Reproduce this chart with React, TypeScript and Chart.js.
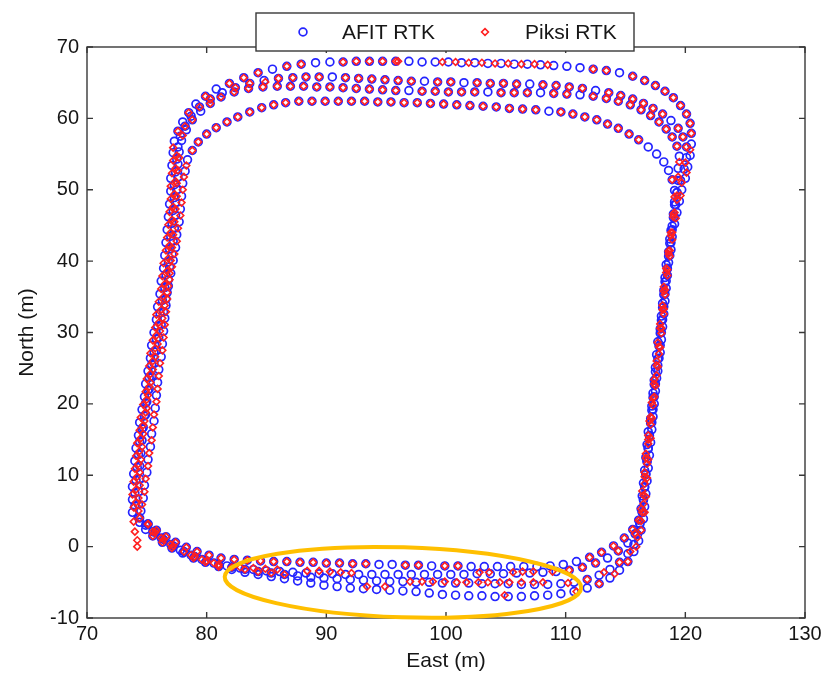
import { useEffect, useRef } from 'react';
import { Chart, registerables } from 'chart.js';

Chart.register(...registerables);

type Pt = [number, number];

const xTicks = [70, 80, 90, 100, 110, 120, 130];
const yTicks = [-10, 0, 10, 20, 30, 40, 50, 60, 70];
const seriesNames = ['AFIT RTK', 'Piksi RTK'];
const xTitle = 'East (m)';
const yTitle = 'North (m)';

// highlighted region (data units): centre, semi-axes, tilt (rad)
const highlightEllipse = { cx: 96.4, cy: -5.0, rx: 14.9, ry: 4.9, tilt: 0.031 };

// ---------------- AFIT RTK (blue circles) ----------------
const afitLap1: Pt[] = [
  [73.8,4.8],[73.8,6.6],[73.8,8.4],[73.9,10.2],[74.0,12.0],[74.1,13.8],[74.3,15.6],[74.4,17.4],[74.6,19.2],[74.8,21.0],
  [74.9,22.8],[75.1,24.6],[75.3,26.4],[75.4,28.2],[75.6,30.0],[75.8,31.8],[75.9,33.6],[76.1,35.4],[76.2,37.2],[76.4,39.0],
  [76.5,40.8],[76.6,42.6],[76.7,44.4],[76.8,46.2],[76.9,48.0],[77.0,49.8],[77.0,51.6],[77.1,53.4],[77.2,55.2],[77.3,56.8],
  [77.6,58.2],[78.0,59.5],[78.5,60.8],[79.1,62.0],[79.9,63.1],[80.8,64.1],[81.9,64.9],[83.1,65.7],[84.3,66.4],[85.5,66.9],
  [86.7,67.3],[87.9,67.6],[89.1,67.8],[90.3,67.9],[91.4,67.9],[92.5,68.0],[93.6,68.0],[94.7,68.0],[95.8,68.0],[96.9,68.0],
  [98.0,67.9],[99.1,67.9],[100.2,67.9],[101.3,67.8],[102.4,67.8],[103.5,67.7],[104.6,67.7],[105.7,67.6],[106.8,67.6],[107.9,67.5],
  [109.0,67.4],[110.1,67.3],[111.2,67.1],[112.3,66.9],[113.4,66.7],[114.5,66.4],[115.6,65.9],[116.6,65.3],[117.5,64.6],[118.3,63.8],
  [119.0,62.9],[119.6,61.8],[120.1,60.6],[120.4,59.3],[120.5,57.9],[120.5,56.4],[120.4,54.8],[120.2,53.2],[120.0,51.6],[119.7,50.0],
  [119.5,48.4],[119.3,46.8],[119.1,45.2],[118.9,43.4],[118.8,41.6],[118.6,39.8],[118.5,38.0],[118.4,36.2],[118.3,34.4],[118.2,32.6],
  [118.1,30.8],[118.0,29.0],[117.9,27.2],[117.7,25.4],[117.6,23.6],[117.5,21.8],[117.4,20.0],[117.3,18.2],[117.2,16.4],[117.1,14.6],
  [117.0,12.8],[116.9,11.0],[116.8,9.2],[116.7,7.4],[116.6,5.6],[116.5,3.9],[116.3,2.3],[116.1,0.8],[115.7,-0.7],[115.2,-2.1],
  [114.5,-3.3],[113.7,-4.4],[112.8,-5.2],[111.8,-5.8],[110.7,-6.3],[109.6,-6.6],[108.5,-6.8],[107.4,-6.9],[106.3,-7.0],[105.2,-7.0],
  [104.1,-7.0],[103.0,-6.9],[101.9,-6.9],[100.8,-6.8],[99.7,-6.7],[98.6,-6.5],[97.5,-6.3],[96.4,-6.2],[95.3,-6.1],[94.2,-6.0],
  [93.1,-5.9],[92.0,-5.8],[90.9,-5.6],[89.8,-5.4],[88.7,-5.1],[87.6,-4.8],[86.5,-4.5],[85.4,-4.2],[84.3,-3.9],[83.2,-3.6],
  [82.1,-3.2],[81.0,-2.8],[79.9,-2.2],[78.9,-1.6],[78.0,-0.9],[77.1,-0.2],[76.3,0.6],[75.5,1.5],[74.9,2.4],[74.4,3.4]
];
const afitLap2: Pt[] = [
  [74.0,5.7],[74.0,7.5],[74.1,9.3],[74.2,11.1],[74.3,12.9],[74.4,14.7],[74.6,16.5],[74.8,18.3],[74.9,20.1],[75.1,21.9],
  [75.2,23.7],[75.4,25.5],[75.6,27.3],[75.8,29.1],[75.9,30.9],[76.1,32.7],[76.3,34.5],[76.5,36.3],[76.6,38.1],[76.8,39.9],
  [76.9,41.7],[77.0,43.5],[77.1,45.3],[77.2,47.1],[77.3,48.9],[77.3,50.7],[77.4,52.5],[77.5,54.3],[77.6,56.0],[77.8,57.5],
  [78.2,58.9],[78.7,60.3],[79.4,61.6],[80.3,62.7],[81.3,63.6],[82.4,64.3],[83.6,64.9],[84.8,65.3],[86.0,65.6],[87.2,65.7],
  [88.3,65.8],[89.4,65.8],[90.5,65.8],[91.6,65.7],[92.7,65.6],[93.8,65.5],[94.9,65.4],[96.0,65.3],[97.1,65.2],[98.2,65.2],
  [99.3,65.1],[100.4,65.1],[101.5,65.0],[102.6,65.0],[103.7,64.9],[104.8,64.9],[105.9,64.8],[107.0,64.8],[108.1,64.7],[109.2,64.6],
  [110.3,64.4],[111.4,64.2],[112.5,63.9],[113.6,63.6],[114.6,63.2],[115.6,62.7],[116.5,62.1],[117.3,61.4],[118.1,60.6],[118.8,59.7],
  [119.4,58.6],[119.8,57.4],[120.1,56.0],[120.1,54.5],[119.9,52.9],[119.6,51.3],[119.3,49.6],[119.1,47.9],[119.0,46.1],[118.8,44.3],
  [118.7,42.5],[118.6,40.7],[118.5,38.9],[118.3,37.1],[118.2,35.3],[118.1,33.5],[118.0,31.7],[117.9,29.9],[117.8,28.1],[117.7,26.3],
  [117.5,24.5],[117.4,22.7],[117.3,20.9],[117.2,19.1],[117.1,17.3],[117.0,15.5],[116.9,13.7],[116.8,11.9],[116.7,10.1],[116.6,8.3],
  [116.5,6.5],[116.4,4.8],[116.2,3.2],[115.8,1.8],[115.2,0.5],[114.4,-0.6],[113.5,-1.6],[112.5,-2.3],[111.4,-2.9],[110.3,-3.3],
  [109.2,-3.5],[108.1,-3.6],[107.0,-3.7],[105.9,-3.7],[104.8,-3.8],[103.7,-3.8],[102.6,-3.8],[101.5,-3.9],[100.4,-3.9],[99.3,-3.9],
  [98.2,-3.9],[97.1,-3.9],[96.0,-3.9],[94.9,-3.9],[93.8,-3.9],[92.7,-3.9],[91.6,-3.9],[90.5,-3.8],[89.4,-3.8],[88.3,-3.7],
  [87.2,-3.6],[86.1,-3.5],[85.0,-3.4],[83.9,-3.2],[82.8,-3.0],[81.7,-2.7],[80.6,-2.3],[79.6,-1.8],[78.7,-1.2],[77.8,-0.5],
  [77.0,0.3],[76.2,1.2],[75.5,2.1],[74.9,3.0],[74.4,4.0]
];
const afitLap3: Pt[] = [
  [74.5,5.0],[74.7,6.8],[74.8,8.6],[75.0,10.4],[75.1,12.2],[75.3,14.0],[75.4,15.8],[75.6,17.6],[75.7,19.4],[75.8,21.2],
  [75.9,23.0],[76.0,24.8],[76.2,26.6],[76.3,28.4],[76.4,30.2],[76.5,32.0],[76.6,33.8],[76.7,35.6],[76.8,37.4],[76.9,39.2],
  [77.1,41.0],[77.2,42.8],[77.3,44.6],[77.4,46.4],[77.4,48.2],[77.5,50.0],[77.6,51.8],[77.6,53.6],[77.7,55.3],[77.9,56.9],
  [78.3,58.4],[78.8,59.8],[79.5,61.0],[80.3,62.1],[81.2,63.0],[82.3,63.7],[83.5,64.2],[84.7,64.4],[85.9,64.5],[87.0,64.5],
  [88.1,64.5],[89.2,64.4],[90.3,64.4],[91.4,64.3],[92.5,64.2],[93.6,64.1],[94.7,64.0],[95.8,63.9],[96.9,63.9],[98.0,63.8],
  [99.1,63.8],[100.2,63.7],[101.3,63.7],[102.4,63.7],[103.5,63.7],[104.6,63.6],[105.7,63.6],[106.8,63.6],[107.9,63.6],[109.0,63.5],
  [110.1,63.4],[111.2,63.3],[112.3,63.1],[113.4,62.8],[114.4,62.4],[115.4,61.9],[116.3,61.2],[117.1,60.4],[117.8,59.5],[118.4,58.5],
  [118.9,57.4],[119.3,56.1],[119.5,54.7],[119.4,53.0],[119.4,51.3],[119.3,49.6],[119.2,47.9],[119.1,46.2],[118.9,44.4],[118.8,42.6],
  [118.7,40.8],[118.5,39.0],[118.4,37.2],[118.3,35.4],[118.2,33.6],[118.1,31.8],[118.0,30.0],[117.9,28.2],[117.8,26.4],[117.7,24.6],
  [117.5,22.8],[117.4,21.0],[117.3,19.2],[117.2,17.4],[117.0,15.6],[116.9,13.8],[116.8,12.0],[116.7,10.2],[116.6,8.4],[116.5,6.6],
  [116.4,4.8],[116.2,3.2],[116.0,1.7],[115.7,0.3],[115.2,-1.0],[114.5,-2.2],[113.7,-3.2],[112.8,-4.0],[111.8,-4.6],[110.7,-5.0],
  [109.6,-5.2],[108.5,-5.3],[107.4,-5.3],[106.3,-5.3],[105.2,-5.2],[104.1,-5.2],[103.0,-5.2],[101.9,-5.1],[100.8,-5.1],[99.7,-5.1],
  [98.6,-5.0],[97.5,-5.0],[96.4,-4.9],[95.3,-4.9],[94.2,-4.8],[93.1,-4.7],[92.0,-4.6],[90.9,-4.5],[89.8,-4.4],[88.7,-4.3],
  [87.6,-4.1],[86.5,-3.9],[85.4,-3.7],[84.3,-3.5],[83.2,-3.2],[82.1,-2.9],[81.0,-2.5],[80.0,-2.0],[79.0,-1.4],[78.1,-0.7],
  [77.2,0.1],[76.4,1.0],[75.7,2.0],[75.1,3.1]
];
const afitLap4: Pt[] = [
  [74.3,4.1],[74.3,5.9],[74.3,7.7],[74.4,9.5],[74.4,11.3],[74.5,13.1],[74.6,14.9],[74.7,16.7],[74.9,18.5],[75.0,20.3],
  [75.2,22.1],[75.4,23.9],[75.6,25.7],[75.8,27.5],[76.0,29.3],[76.2,31.1],[76.4,32.9],[76.6,34.7],[76.8,36.5],[77.0,38.3],
  [77.2,40.1],[77.4,41.9],[77.5,43.7],[77.7,45.5],[77.8,47.3],[77.9,49.1],[78.0,50.9],[78.2,52.6],[78.4,54.2],[78.8,55.5],
  [79.3,56.7],[80.0,57.8],[80.8,58.7],[81.7,59.5],[82.6,60.2],[83.6,60.9],[84.6,61.5],[85.6,61.9],[86.6,62.2],[87.7,62.4],
  [88.8,62.4],[89.9,62.4],[91.0,62.4],[92.1,62.4],[93.2,62.4],[94.3,62.3],[95.4,62.3],[96.5,62.2],[97.6,62.2],[98.7,62.1],
  [99.8,62.0],[100.9,61.9],[102.0,61.8],[103.1,61.7],[104.2,61.6],[105.3,61.4],[106.4,61.3],[107.5,61.2],[108.6,61.0],[109.6,60.9],
  [110.6,60.6],[111.6,60.2],[112.6,59.8],[113.5,59.2],[114.4,58.6],[115.3,57.8],[116.1,57.0],[116.9,56.0],[117.6,55.0],[118.2,53.9],
  [118.6,52.7],[118.9,51.4],[119.1,49.9],[119.1,48.3],[119.0,46.6],[118.9,44.9],[118.7,43.1],[118.6,41.3],[118.4,39.5],[118.3,37.7],
  [118.2,35.9],[118.1,34.1],[118.0,32.3],[117.9,30.5],[117.7,28.7],[117.6,26.9],[117.5,25.1],[117.4,23.3],[117.3,21.5],[117.2,19.7],
  [117.1,17.9],[116.9,16.1],[116.8,14.3],[116.7,12.5],[116.6,10.7],[116.5,8.9],[116.4,7.1],[116.3,5.3],[116.1,3.7],[115.6,2.4],
  [114.9,1.2],[114.0,0.1],[113.0,-0.8],[112.0,-1.5],[110.9,-2.1],[109.8,-2.5],[108.7,-2.7],[107.6,-2.8],[106.5,-2.8],[105.4,-2.8],
  [104.3,-2.8],[103.2,-2.8],[102.1,-2.8],[101.0,-2.7],[99.9,-2.7],[98.8,-2.7],[97.7,-2.6],[96.6,-2.6],[95.5,-2.5],[94.4,-2.5],
  [93.3,-2.4],[92.2,-2.4],[91.1,-2.3],[90.0,-2.3],[88.9,-2.2],[87.8,-2.2],[86.7,-2.1],[85.6,-2.1],[84.5,-2.0],[83.4,-1.9],
  [82.3,-1.8],[81.2,-1.6],[80.2,-1.2],[79.2,-0.7],[78.3,-0.1],[77.4,0.6],[76.6,1.4],[75.8,2.3],[75.1,3.2]
];

// ---------------- Piksi RTK (red diamonds) ----------------
const piksiLap1: Pt[] = [
  [74.2,0.0],[74.2,0.9],[74.0,2.1],[73.9,3.5],[73.9,5.5],[73.8,7.3],[73.9,9.1],[74.0,10.9],[74.1,12.7],[74.2,14.5],
  [74.4,16.3],[74.5,18.1],[74.7,19.9],[74.9,21.7],[75.0,23.5],[75.2,25.3],[75.3,27.1],[75.5,28.9],[75.7,30.7],[75.8,32.5],
  [76.0,34.3],[76.2,36.1],[76.3,37.9],[76.4,39.7],[76.6,41.5],[76.7,43.3],[76.8,45.1],[76.9,46.9],[77.0,48.7],[77.0,50.5],
  [77.1,52.3],[77.2,54.1],[77.2,55.9],[77.6,58.2],[78.5,60.8],[79.9,63.1],[81.9,64.9],[83.1,65.7],[84.3,66.4],[86.7,67.3],
  [87.9,67.6],[91.4,67.9],[92.5,68.0],[93.6,68.0],[94.7,68.0],[95.8,68.0],[96.0,68.0],[99.7,67.9],[100.8,67.9],[101.9,67.8],
  [103.0,67.8],[104.1,67.7],[105.2,67.7],[106.3,67.6],[107.4,67.6],[108.5,67.5],[112.3,66.9],[113.4,66.7],[115.6,65.9],[116.6,65.3],
  [117.5,64.6],[118.3,63.8],[119.0,62.9],[119.6,61.8],[120.1,60.6],[120.4,59.3],[120.5,57.9],[120.4,55.6],[120.1,52.4],[119.6,49.2],
  [119.2,46.0],[118.9,43.0],[118.7,40.7],[118.5,38.0],[118.3,35.3],[118.2,32.6],[118.0,29.9],[117.8,27.0],[117.6,24.0],[117.4,21.0],
  [117.2,18.0],[117.1,15.2],[116.9,12.2],[116.8,9.6],[116.7,7.0],[116.6,4.8],[116.3,2.3],[115.9,0.0],[115.2,-2.1],[114.1,-3.8],
  [112.8,-5.2],[110.9,-6.3],[104.9,-6.8],[81.0,-2.8],[79.9,-2.2],[78.9,-1.6],[77.1,-0.2],[76.3,0.6],[75.5,1.5]
];
const piksiLap2: Pt[] = [
  [74.1,6.2],[74.1,8.0],[74.2,9.8],[74.3,11.6],[74.4,13.4],[74.5,15.2],[74.7,17.0],[74.9,18.8],[75.0,20.6],[75.2,22.4],
  [75.3,24.2],[75.5,26.0],[75.7,27.8],[75.8,29.6],[76.0,31.4],[76.2,33.2],[76.4,35.0],[76.5,36.8],[76.7,38.6],[76.8,40.4],
  [76.9,42.2],[77.0,44.0],[77.1,45.8],[77.2,47.6],[77.3,49.4],[77.4,51.2],[77.4,53.0],[77.5,54.8],[78.2,58.9],[79.4,61.6],
  [80.3,62.7],[82.4,64.3],[83.6,64.9],[84.9,65.1],[86.0,65.6],[87.2,65.7],[88.3,65.8],[89.4,65.8],[91.6,65.7],[92.7,65.6],
  [93.8,65.5],[94.9,65.4],[96.0,65.3],[97.1,65.2],[99.3,65.1],[100.4,65.1],[102.6,65.0],[103.7,64.9],[104.8,64.9],[105.9,64.8],
  [108.1,64.7],[109.2,64.6],[110.3,64.4],[111.4,64.2],[113.6,63.6],[114.6,63.2],[115.6,62.7],[116.5,62.1],[117.3,61.4],[118.1,60.6],
  [119.4,58.6],[119.8,57.4],[120.1,56.0],[120.0,53.8],[119.7,51.0],[119.3,48.6],[119.0,46.2],[118.8,43.6],[118.6,41.0],[118.4,38.4],
  [118.2,35.8],[118.1,33.2],[117.9,30.6],[117.8,28.0],[117.6,25.4],[117.4,22.8],[117.2,20.2],[117.0,17.6],[116.9,15.0],[116.7,12.4],
  [116.6,9.8],[116.5,7.2],[116.4,4.8],[115.8,1.8],[114.4,-0.6],[112.5,-2.3],[111.4,-2.9],[110.3,-3.3],[108.9,-3.5],[107.3,-3.5],
  [106.4,-3.5],[105.6,-3.6],[103.6,-3.6],[102.8,-3.6],[85.9,-3.2],[84.9,-3.1],[83.9,-3.0],[82.8,-2.9],[80.6,-2.3],[79.6,-1.8],
  [78.7,-1.2],[77.0,0.3],[76.2,1.2],[75.5,2.1],[74.4,4.0]
];
const piksiLap3: Pt[] = [
  [74.6,5.9],[74.8,7.7],[74.9,9.5],[75.1,11.3],[75.2,13.1],[75.4,14.9],[75.5,16.7],[75.6,18.5],[75.8,20.3],[75.9,22.1],
  [76.0,23.9],[76.1,25.7],[76.3,27.5],[76.4,29.3],[76.5,31.1],[76.6,32.9],[76.7,34.7],[76.8,36.5],[76.9,38.3],[77.0,40.1],
  [77.1,41.9],[77.2,43.7],[77.3,45.5],[77.4,47.3],[77.5,49.1],[77.5,50.9],[77.6,52.7],[77.7,54.5],[78.0,57.6],[78.8,59.8],
  [80.3,62.1],[81.2,63.0],[82.3,63.7],[83.5,64.2],[84.7,64.4],[85.9,64.5],[87.0,64.5],[88.1,64.5],[89.2,64.4],[90.3,64.4],
  [91.4,64.3],[92.5,64.2],[93.6,64.1],[94.7,64.0],[95.8,63.9],[98.0,63.8],[99.1,63.8],[100.2,63.7],[101.3,63.7],[102.4,63.7],
  [104.6,63.6],[105.7,63.6],[106.8,63.6],[109.0,63.5],[110.1,63.4],[112.3,63.1],[113.4,62.8],[114.4,62.4],[115.4,61.9],[116.3,61.2],
  [117.1,60.4],[117.8,59.5],[118.4,58.5],[118.9,57.4],[119.3,56.1],[119.5,53.9],[119.4,51.8],[119.3,49.2],[119.1,46.8],[118.9,44.0],
  [118.7,41.5],[118.5,38.8],[118.3,36.0],[118.2,33.3],[118.0,30.6],[117.9,27.9],[117.7,25.2],[117.5,22.5],[117.3,19.8],[117.1,17.1],
  [116.9,14.4],[116.8,11.6],[116.6,8.8],[116.5,6.0],[116.3,3.6],[116.0,1.3],[115.4,-0.7],[114.5,-2.2],[113.2,-3.6],[111.8,-4.6],
  [110.2,-5.1],[108.1,-5.0],[107.3,-5.0],[106.3,-5.0],[105.3,-5.0],[104.5,-5.0],[103.5,-5.0],[102.7,-5.0],[101.7,-5.0],[100.9,-5.0],
  [99.9,-4.9],[98.9,-4.9],[98.0,-4.9],[97.0,-4.9],[94.9,-5.6],[93.4,-5.6],[92.1,-3.7],[91.2,-3.6],[90.3,-3.5],[89.4,-3.4],
  [88.4,-3.4],[86.5,-3.9],[85.4,-3.7],[84.3,-3.5],[83.2,-3.2],[82.1,-2.9],[81.0,-2.5],[80.0,-2.0],[79.0,-1.4],[78.1,-0.7],
  [77.2,0.1],[76.4,1.0],[75.7,2.0],[75.1,3.1]
];
const piksiLap4: Pt[] = [
  [74.3,5.0],[74.3,6.8],[74.4,8.6],[74.4,10.4],[74.5,12.2],[74.6,14.0],[74.7,15.8],[74.8,17.6],[75.0,19.4],[75.1,21.2],
  [75.3,23.0],[75.5,24.8],[75.7,26.6],[75.9,28.4],[76.1,30.2],[76.3,32.0],[76.5,33.8],[76.7,35.6],[76.9,37.4],[77.1,39.2],
  [77.3,41.0],[77.5,42.8],[77.6,44.6],[77.8,46.4],[77.9,48.2],[78.0,50.0],[78.1,51.8],[78.3,53.4],[78.8,55.5],[79.3,56.7],
  [80.0,57.8],[80.8,58.7],[81.7,59.5],[82.6,60.2],[83.6,60.9],[84.6,61.5],[85.6,61.9],[86.6,62.2],[87.7,62.4],[88.8,62.4],
  [89.9,62.4],[91.0,62.4],[92.1,62.4],[93.2,62.4],[94.3,62.3],[95.4,62.3],[96.5,62.2],[97.6,62.2],[98.7,62.1],[99.8,62.0],
  [100.9,61.9],[102.0,61.8],[103.1,61.7],[104.2,61.6],[105.3,61.4],[106.4,61.3],[107.5,61.2],[109.6,60.9],[110.6,60.6],[111.6,60.2],
  [112.6,59.8],[113.5,59.2],[114.4,58.6],[115.3,57.8],[116.1,57.0],[118.9,51.4],[119.1,49.0],[119.0,46.6],[118.8,44.0],[118.6,41.4],
  [118.4,39.0],[118.2,36.4],[118.1,33.8],[117.9,31.2],[117.7,28.6],[117.6,26.0],[117.4,23.4],[117.3,20.8],[117.1,18.2],[116.9,15.6],
  [116.7,13.0],[116.6,10.4],[116.4,7.8],[116.3,5.3],[116.1,3.7],[115.6,2.4],[114.9,1.2],[114.0,0.1],[113.0,-0.8],[112.0,-1.5],
  [101.0,-2.7],[99.9,-2.7],[97.7,-2.6],[96.6,-2.6],[93.3,-2.4],[92.2,-2.4],[91.1,-2.3],[90.0,-2.3],[88.9,-2.2],[87.8,-2.2],
  [86.7,-2.1],[85.6,-2.1],[84.5,-2.0],[83.4,-1.9],[82.3,-1.8],[81.2,-1.6],[80.2,-1.2],[79.2,-0.7],[78.3,-0.1],[77.4,0.6],
  [76.6,1.4],[75.8,2.3],[75.1,3.2]
];

const afitPoints: Pt[] = [...afitLap1, ...afitLap2, ...afitLap3, ...afitLap4];
const piksiPoints: Pt[] = [...piksiLap1, ...piksiLap2, ...piksiLap3, ...piksiLap4];

const FONT = "'Liberation Sans', Arial, Helvetica, sans-serif";
const TEXT = '#161616';
const AXIS = '#383838';
const BLUE = '#2424ff';
const RED = '#ff2020';

const overlayPlugin = {
  id: 'overlay',
  afterDatasetsDraw(chart: any) {
    const { ctx, chartArea, scales } = chart;
    const { left, right, top, bottom } = chartArea;
    const xs = scales.x;
    const ys = scales.y;
    ctx.save();
    // axes box
    ctx.strokeStyle = AXIS;
    ctx.lineWidth = 1.4;
    ctx.strokeRect(left, top, right - left, bottom - top);
    // inward tick marks on all four sides
    const tl = 6;
    ctx.beginPath();
    xTicks.forEach((v) => {
      const px = xs.getPixelForValue(v);
      ctx.moveTo(px, bottom); ctx.lineTo(px, bottom - tl);
      ctx.moveTo(px, top); ctx.lineTo(px, top + tl);
    });
    yTicks.forEach((v) => {
      const py = ys.getPixelForValue(v);
      ctx.moveTo(left, py); ctx.lineTo(left + tl, py);
      ctx.moveTo(right, py); ctx.lineTo(right - tl, py);
    });
    ctx.stroke();

    // highlight ellipse
    const e = highlightEllipse;
    const cx = xs.getPixelForValue(e.cx);
    const cy = ys.getPixelForValue(e.cy);
    const rx = xs.getPixelForValue(e.cx + e.rx) - cx;
    const ry = cy - ys.getPixelForValue(e.cy + e.ry);
    ctx.beginPath();
    ctx.ellipse(cx, cy, rx, ry, e.tilt, 0, Math.PI * 2);
    ctx.strokeStyle = '#ffbf00';
    ctx.lineWidth = 4;
    ctx.stroke();

    // legend box straddling the top border
    const lx = 256, ly = 13, lw = 378, lh = 38;
    ctx.fillStyle = '#ffffff';
    ctx.fillRect(lx, ly, lw, lh);
    ctx.strokeStyle = AXIS;
    ctx.lineWidth = 1.4;
    ctx.strokeRect(lx, ly, lw, lh);
    const my = ly + lh / 2;
    // AFIT marker
    ctx.beginPath();
    ctx.arc(303, my, 3.9, 0, Math.PI * 2);
    ctx.strokeStyle = BLUE;
    ctx.lineWidth = 1.7;
    ctx.stroke();
    // Piksi marker
    ctx.beginPath();
    ctx.moveTo(485, my - 3.4); ctx.lineTo(488.4, my); ctx.lineTo(485, my + 3.4); ctx.lineTo(481.6, my); ctx.closePath();
    ctx.strokeStyle = RED;
    ctx.lineWidth = 1.6;
    ctx.stroke();
    ctx.fillStyle = TEXT;
    ctx.font = `21px ${FONT}`;
    ctx.textBaseline = 'middle';
    ctx.textAlign = 'left';
    ctx.fillText(seriesNames[0], 342, my + 1);
    ctx.fillText(seriesNames[1], 525, my + 1);
    ctx.restore();
  },
};

export default function App() {
  const canvasRef = useRef<HTMLCanvasElement | null>(null);

  useEffect(() => {
    const canvas = canvasRef.current;
    if (!canvas) return;
    const chart = new Chart(canvas, {
      type: 'scatter',
      data: {
        datasets: [
          {
            label: seriesNames[0],
            data: afitPoints.map(([x, y]) => ({ x, y })),
            pointStyle: 'circle',
            pointRadius: 3.9,
            borderWidth: 1.7,
            borderColor: BLUE,
            backgroundColor: 'rgba(0,0,0,0)',
            showLine: false,
            order: 1,
          },
          {
            label: seriesNames[1],
            data: piksiPoints.map(([x, y]) => ({ x, y })),
            pointStyle: 'rectRot',
            pointRadius: 3.4,
            borderWidth: 1.6,
            borderColor: RED,
            backgroundColor: 'rgba(0,0,0,0)',
            showLine: false,
            order: 0,
          },
        ],
      },
      options: {
        responsive: false,
        animation: false,
        devicePixelRatio: 1,
        layout: { padding: { top: 47, right: 23, bottom: 0, left: 0 } },
        plugins: {
          legend: { display: false },
          tooltip: { enabled: false },
        },
        scales: {
          x: {
            type: 'linear',
            min: 70,
            max: 130,
            afterFit: (s: any) => { s.height = 61; },
            grid: { display: false, drawTicks: false, tickLength: 0 },
            border: { display: false },
            ticks: {
              stepSize: 10,
              padding: 4,
              color: TEXT,
              font: { family: FONT, size: 20 },
              maxRotation: 0,
            },
            title: {
              display: true,
              text: xTitle,
              color: TEXT,
              font: { family: FONT, size: 21 },
              padding: { top: 0, bottom: 5 },
            },
          },
          y: {
            type: 'linear',
            min: -10,
            max: 70,
            afterFit: (s: any) => { s.width = 87; },
            grid: { display: false, drawTicks: false, tickLength: 0 },
            border: { display: false },
            ticks: {
              stepSize: 10,
              padding: 8,
              color: TEXT,
              font: { family: FONT, size: 20 },
            },
            title: {
              display: true,
              text: yTitle,
              color: TEXT,
              font: { family: FONT, size: 21 },
              padding: { top: 15, bottom: 0 },
            },
          },
        },
      },
      plugins: [overlayPlugin],
    });
    return () => chart.destroy();
  }, []);

  return (
    <div style={{ position: 'absolute', left: 0, top: 0, width: 828, height: 679, background: '#ffffff' }}>
      <canvas ref={canvasRef} width={828} height={679} style={{ display: 'block' }} />
    </div>
  );
}
